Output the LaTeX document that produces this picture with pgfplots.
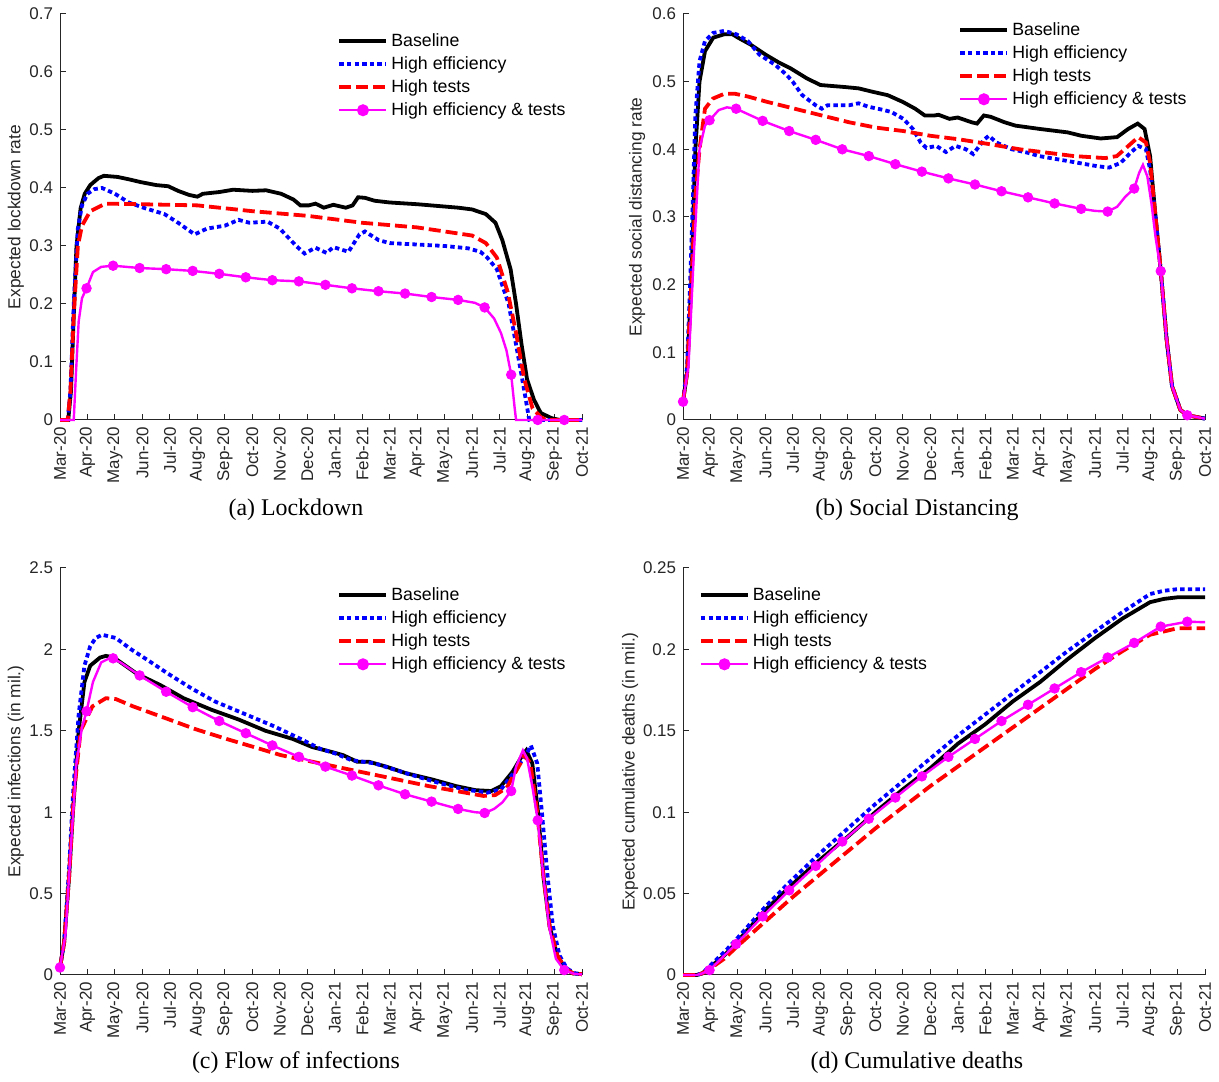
\documentclass[border=0pt]{standalone}
\usepackage{pgfplots}
\pgfplotsset{compat=1.18}
\usepackage{fontspec}
\setmainfont{Liberation Sans}
\newfontfamily\capfont{Liberation Serif}
\definecolor{mblue}{RGB}{0,0,255}
\definecolor{mred}{RGB}{255,0,0}
\definecolor{mmag}{RGB}{255,0,255}
\definecolor{axgray}{RGB}{38,38,38}
\pgfplotsset{
 panel/.style={
   scale only axis, width=261bp, height=203bp,
   xmin=0, xmax=19,
   axis x line*=bottom, axis y line*=left,
   axis line style={-, axgray, line width=0.5bp},
   tick style={axgray, line width=0.5bp},
   tick align=inside, major tick length=3bp,
   xtick={0,...,19},
   xticklabels={Mar-20,Apr-20,May-20,Jun-20,Jul-20,Aug-20,Sep-20,Oct-20,Nov-20,Dec-20,Jan-21,Feb-21,Mar-21,Apr-21,May-21,Jun-21,Jul-21,Aug-21,Sep-21,Oct-21},
   xticklabel style={rotate=90, anchor=east, font=\fontsize{8.5}{9}\selectfont, text=axgray},
   yticklabel style={font=\fontsize{8.5}{9}\selectfont, text=axgray},
   /pgf/number format/assume math mode=true,
   /pgf/number format/fixed, /pgf/number format/precision=2,
   scaled y ticks=false,
   every axis y label/.style={rotate=90, anchor=center, font=\fontsize{8.7}{10}\selectfont, text=axgray},
   clip=false,
   legend cell align=left,
   legend style={draw=none, fill=none, anchor=north west, font=\fontsize{8.9}{10}\selectfont, inner sep=0pt, row sep=2.5bp, column sep=1.5bp, nodes={inner sep=0pt, text height=7bp, text depth=2bp}},
   legend image code/.code={\draw[mark repeat=2,mark phase=2,##1] plot coordinates {(0bp,0bp) (11.75bp,0bp) (23.5bp,0bp)};},
 },
 bl/.style={black, line width=1.9bp},
 he/.style={mblue, line width=1.9bp, dash pattern=on 2.2bp off 1.6bp},
 ht/.style={mred, line width=1.9bp, dash pattern=on 6bp off 2.5bp},
 hm/.style={mmag, line width=1.2bp},
 hmk/.style={mmag, only marks, mark=*, mark size=2.4bp, mark options={solid, fill=mmag, draw=mmag}},
}
\newcommand{\hmlegend}{\addlegendimage{mmag, line width=1.2bp, mark=*, mark size=2.4bp, mark options={solid, fill=mmag}}\addlegendentry{High efficiency \& tests}}
\begin{document}
\begin{tikzpicture}[x=1bp,y=1bp]
\path[use as bounding box] (0,0) rectangle (609.5,541);
% ---------------- (a)
\begin{axis}[panel, at={(30bp,331bp)}, anchor=south west,
  ymin=0, ymax=0.7, ytick={0,0.1,0.2,0.3,0.4,0.5,0.6,0.7},
  ylabel={Expected lockdown rate}, ylabel style={at={(axis description cs:-0.0843,0.5)}},
  legend style={at={(axis description cs:0.531,0.956)}}]
\addplot[bl] coordinates {(0,0)(0.3,0)(0.4,0.05)(0.5,0.18)(0.6,0.3)(0.75,0.365)(0.9,0.39)(1.1,0.405)(1.4,0.417)(1.6,0.421)(2.1,0.419)(2.5,0.415)(2.95,0.41)(3.5,0.405)(3.94,0.403)(4.3,0.395)(4.7,0.388)(5.0,0.385)(5.2,0.39)(5.8,0.393)(6.3,0.397)(7.0,0.395)(7.5,0.396)(8.05,0.39)(8.5,0.38)(8.75,0.37)(9.05,0.37)(9.3,0.373)(9.6,0.366)(9.95,0.371)(10.4,0.366)(10.65,0.37)(10.85,0.384)(11.1,0.383)(11.45,0.378)(12.0,0.375)(13,0.372)(14,0.368)(14.5,0.366)(15.0,0.363)(15.5,0.355)(15.85,0.34)(16.1,0.31)(16.4,0.26)(16.6,0.2)(16.8,0.13)(17.0,0.07)(17.25,0.035)(17.5,0.012)(17.9,0.003)(18.2,0)(19,0)};
\addlegendentry{Baseline}
\addplot[he] coordinates {(0,0)(0.28,0)(0.38,0.05)(0.5,0.2)(0.65,0.33)(0.8,0.37)(1.0,0.39)(1.25,0.398)(1.53,0.4)(2.0,0.39)(2.5,0.375)(3.1,0.365)(3.8,0.355)(4.3,0.34)(4.9,0.32)(5.35,0.33)(6.0,0.335)(6.5,0.345)(6.9,0.34)(7.55,0.342)(8.0,0.33)(8.6,0.30)(8.9,0.287)(9.3,0.297)(9.7,0.288)(9.95,0.298)(10.5,0.29)(10.9,0.32)(11.1,0.325)(11.6,0.31)(12.0,0.305)(14.0,0.3)(14.85,0.296)(15.3,0.29)(15.55,0.28)(15.9,0.26)(16.33,0.2)(16.6,0.13)(16.9,0.05)(17.08,0)(19,0)};
\addlegendentry{High efficiency}
\addplot[ht] coordinates {(0,0)(0.28,0)(0.38,0.05)(0.5,0.18)(0.65,0.3)(0.8,0.335)(1.1,0.36)(1.65,0.373)(2.95,0.372)(5.0,0.37)(7.0,0.36)(9.0,0.352)(11.0,0.34)(13.0,0.332)(15.0,0.318)(15.5,0.305)(15.9,0.28)(16.3,0.22)(16.6,0.15)(16.9,0.07)(17.2,0.02)(17.5,0.005)(17.7,0)(19,0)};
\addlegendentry{High tests}
\addplot[hm, forget plot] coordinates {(0,0)(0.5,0)(0.58,0.08)(0.68,0.17)(0.8,0.21)(0.966,0.227)(1.2,0.255)(1.5,0.264)(1.932,0.266)(2.898,0.262)(3.864,0.26)(4.83,0.257)(5.796,0.252)(6.762,0.246)(7.728,0.241)(8.694,0.239)(9.66,0.233)(10.626,0.227)(11.592,0.222)(12.558,0.218)(13.524,0.212)(14.49,0.207)(15.1,0.202)(15.456,0.194)(15.8,0.175)(16.05,0.15)(16.25,0.12)(16.422,0.078)(16.55,0.02)(16.6,0)(19,0)};
\addplot[hmk, forget plot] coordinates {(0.966,0.227)(1.932,0.266)(2.898,0.262)(3.864,0.26)(4.83,0.257)(5.796,0.252)(6.762,0.246)(7.728,0.241)(8.694,0.239)(9.66,0.233)(10.626,0.227)(11.592,0.222)(12.558,0.218)(13.524,0.212)(14.49,0.207)(15.456,0.194)(16.422,0.078)(17.388,0)(18.354,0)};
\hmlegend
\node[font={\capfont\fontsize{12}{14}\selectfont}] at (axis description cs:0.452,-0.2217) {(a) Lockdown};
\end{axis}
% ---------------- (b)
\begin{axis}[panel, at={(341.5bp,331bp)}, anchor=south west,
  ymin=0, ymax=0.6, ytick={0,0.1,0.2,0.3,0.4,0.5,0.6},
  ylabel={Expected social distancing rate}, ylabel style={at={(axis description cs:-0.088,0.5)}},
  legend style={at={(axis description cs:0.527,0.983)}}]
\addplot[bl] coordinates {(0,0.027)(0.15,0.07)(0.3,0.2)(0.45,0.4)(0.6,0.5)(0.8,0.545)(1.1,0.565)(1.5,0.57)(1.8,0.57)(2.0,0.565)(2.45,0.555)(3.0,0.54)(3.5,0.528)(3.9,0.52)(4.5,0.505)(5.0,0.495)(5.3,0.494)(5.9,0.492)(6.4,0.49)(6.9,0.485)(7.45,0.48)(8.0,0.47)(8.45,0.46)(8.8,0.45)(9.15,0.45)(9.3,0.451)(9.7,0.445)(10.0,0.447)(10.5,0.44)(10.7,0.438)(10.95,0.45)(11.2,0.448)(11.7,0.44)(12.1,0.435)(13,0.43)(14,0.425)(14.5,0.42)(15.2,0.416)(15.8,0.418)(16.2,0.43)(16.55,0.438)(16.8,0.43)(17.0,0.39)(17.2,0.3)(17.39,0.22)(17.6,0.12)(17.8,0.05)(18.1,0.015)(18.35,0.007)(19,0.002)};
\addlegendentry{Baseline}
\addplot[he] coordinates {(0,0.027)(0.15,0.08)(0.3,0.25)(0.45,0.45)(0.6,0.53)(0.8,0.56)(1.1,0.572)(1.5,0.575)(1.94,0.57)(2.36,0.56)(2.78,0.54)(3.35,0.525)(3.77,0.51)(3.99,0.5)(4.34,0.48)(4.83,0.465)(5.05,0.46)(5.26,0.465)(6.04,0.465)(6.39,0.468)(6.74,0.463)(7.31,0.458)(7.59,0.455)(8.02,0.445)(8.37,0.43)(8.65,0.41)(8.86,0.402)(9.22,0.405)(9.57,0.396)(9.92,0.405)(10.3,0.4)(10.56,0.393)(10.98,0.415)(11.13,0.42)(11.41,0.41)(11.97,0.4)(12.54,0.395)(12.96,0.39)(13.67,0.385)(14.38,0.38)(15.08,0.375)(15.51,0.373)(15.93,0.38)(16.29,0.395)(16.57,0.405)(16.85,0.4)(17.0,0.37)(17.2,0.3)(17.39,0.22)(17.6,0.12)(17.8,0.05)(18.1,0.015)(18.35,0.007)(19,0.002)};
\addlegendentry{High efficiency}
\addplot[ht] coordinates {(0,0.027)(0.15,0.07)(0.3,0.2)(0.45,0.33)(0.6,0.4)(0.8,0.46)(1.09,0.475)(1.5,0.482)(1.9,0.482)(2.36,0.478)(3.07,0.47)(4.06,0.46)(5.05,0.45)(6.04,0.44)(7.03,0.432)(8.02,0.427)(9.0,0.42)(10.0,0.415)(11.1,0.408)(12.26,0.4)(13.25,0.395)(14.23,0.39)(15.37,0.387)(15.79,0.39)(16.21,0.405)(16.57,0.418)(16.85,0.41)(17.0,0.38)(17.2,0.3)(17.39,0.22)(17.6,0.12)(17.8,0.05)(18.1,0.015)(18.35,0.007)(19,0.002)};
\addlegendentry{High tests}
\addplot[hm, forget plot] coordinates {(0,0.027)(0.2,0.08)(0.4,0.25)(0.6,0.4)(0.8,0.435)(0.966,0.443)(1.3,0.458)(1.6,0.462)(1.932,0.46)(2.898,0.442)(3.864,0.427)(4.83,0.414)(5.796,0.4)(6.762,0.39)(7.728,0.378)(8.694,0.367)(9.66,0.357)(10.626,0.348)(11.592,0.338)(12.558,0.329)(13.524,0.32)(14.49,0.312)(15.0,0.309)(15.456,0.308)(15.8,0.315)(16.1,0.33)(16.422,0.342)(16.6,0.365)(16.74,0.377)(16.9,0.36)(17.05,0.32)(17.2,0.27)(17.388,0.22)(17.6,0.12)(17.8,0.05)(18.1,0.015)(18.354,0.007)(19,0.002)};
\addplot[hmk, forget plot] coordinates {(0,0.027)(0.966,0.443)(1.932,0.46)(2.898,0.442)(3.864,0.427)(4.83,0.414)(5.796,0.4)(6.762,0.39)(7.728,0.378)(8.694,0.367)(9.66,0.357)(10.626,0.348)(11.592,0.338)(12.558,0.329)(13.524,0.32)(14.49,0.312)(15.456,0.308)(16.422,0.342)(17.388,0.22)(18.354,0.007)};
\hmlegend
\node[font={\capfont\fontsize{12}{14}\selectfont}] at (axis description cs:0.448,-0.2217) {(b) Social Distancing};
\end{axis}
% ---------------- (c)
\begin{axis}[panel, at={(30bp,53.5bp)}, anchor=south west, height=203.5bp,
  ymin=0, ymax=2.5, ytick={0,0.5,1,1.5,2,2.5},
  ylabel={Expected infections (in mil.)}, ylabel style={at={(axis description cs:-0.0843,0.5)}},
  legend style={at={(axis description cs:0.531,0.956)}}]
\addplot[bl] coordinates {(0,0.046)(0.15,0.2)(0.33,0.6)(0.47,1.0)(0.68,1.5)(0.89,1.8)(1.1,1.9)(1.46,1.95)(1.67,1.96)(1.96,1.95)(2.38,1.9)(2.8,1.85)(3.66,1.78)(4.5,1.7)(5.5,1.63)(6.49,1.57)(7.48,1.5)(8.47,1.45)(9.18,1.4)(9.89,1.37)(10.31,1.35)(10.81,1.31)(11.24,1.31)(11.87,1.28)(12.58,1.24)(13.57,1.2)(14.42,1.16)(15.13,1.135)(15.7,1.13)(16.05,1.16)(16.48,1.25)(16.83,1.35)(16.97,1.38)(17.19,1.3)(17.4,1.0)(17.6,0.6)(17.82,0.3)(18.1,0.12)(18.39,0.04)(18.67,0.01)(19,0.005)};
\addlegendentry{Baseline}
\addplot[he] coordinates {(0,0.046)(0.15,0.2)(0.33,0.65)(0.47,1.1)(0.68,1.6)(0.89,1.9)(1.1,2.02)(1.3,2.07)(1.53,2.09)(2.03,2.07)(2.59,2.0)(3.23,1.93)(3.94,1.85)(4.79,1.76)(5.64,1.68)(6.77,1.6)(7.76,1.53)(8.76,1.45)(9.46,1.39)(10.03,1.36)(10.6,1.32)(11.45,1.3)(12.58,1.24)(13.57,1.19)(14.7,1.14)(15.56,1.12)(16.05,1.14)(16.55,1.25)(17.05,1.38)(17.14,1.41)(17.37,1.3)(17.54,1.0)(17.75,0.6)(17.94,0.3)(18.18,0.12)(18.45,0.04)(18.75,0.01)(19,0.005)};
\addlegendentry{High efficiency}
\addplot[ht] coordinates {(0,0.046)(0.15,0.2)(0.33,0.6)(0.5,1.1)(0.75,1.5)(1.18,1.65)(1.67,1.7)(2.03,1.695)(2.66,1.65)(3.8,1.58)(4.93,1.51)(6.06,1.45)(7.06,1.4)(8.05,1.35)(9.18,1.31)(10.03,1.28)(11.16,1.24)(12.3,1.2)(13.43,1.16)(14.42,1.13)(15.41,1.1)(15.84,1.105)(16.26,1.15)(16.76,1.3)(16.9,1.35)(17.12,1.3)(17.37,1.0)(17.6,0.6)(17.82,0.3)(18.1,0.12)(18.39,0.04)(18.67,0.01)(19,0.005)};
\addlegendentry{High tests}
\addplot[hm, forget plot] coordinates {(0,0.046)(0.2,0.25)(0.4,0.8)(0.6,1.3)(0.8,1.52)(0.966,1.62)(1.2,1.8)(1.5,1.92)(1.85,1.95)(2.2,1.92)(2.898,1.84)(3.864,1.74)(4.83,1.645)(5.796,1.56)(6.762,1.485)(7.728,1.41)(8.694,1.34)(9.66,1.28)(10.626,1.225)(11.592,1.165)(12.558,1.11)(13.524,1.065)(14.49,1.02)(15.1,1.0)(15.456,0.995)(15.8,1.02)(16.1,1.06)(16.422,1.13)(16.6,1.28)(16.85,1.38)(17.0,1.33)(17.2,1.15)(17.388,0.95)(17.6,0.6)(17.8,0.3)(18.05,0.1)(18.354,0.03)(18.7,0.008)(19,0.003)};
\addplot[hmk, forget plot] coordinates {(0,0.046)(0.966,1.62)(1.932,1.945)(2.898,1.84)(3.864,1.74)(4.83,1.645)(5.796,1.56)(6.762,1.485)(7.728,1.41)(8.694,1.34)(9.66,1.28)(10.626,1.225)(11.592,1.165)(12.558,1.11)(13.524,1.065)(14.49,1.02)(15.456,0.995)(16.422,1.13)(17.388,0.95)(18.354,0.03)};
\hmlegend
\node[font={\capfont\fontsize{12}{14}\selectfont}] at (axis description cs:0.452,-0.216) {(c) Flow of infections};
\end{axis}
% ---------------- (d)
\begin{axis}[panel, at={(341.5bp,53.5bp)}, anchor=south west, height=203.5bp,
  ymin=0, ymax=0.25, ytick={0,0.05,0.1,0.15,0.2,0.25},
  ylabel={Expected cumulative deaths (in mil.)}, ylabel style={at={(axis description cs:-0.1015,0.5)}},
  legend style={at={(axis description cs:0.030,0.956)}}]
\addplot[bl] coordinates {(0,0)(0.5,0)(0.7,0.001)(1,0.005)(1.5,0.012)(2,0.021)(3,0.04)(4,0.056)(5,0.071)(6,0.085)(7,0.1)(8,0.114)(9,0.127)(10,0.142)(11,0.154)(12,0.168)(13,0.18)(14,0.194)(15,0.207)(16,0.219)(17,0.229)(17.5,0.231)(18,0.232)(19,0.232)};
\addlegendentry{Baseline}
\addplot[he] coordinates {(0,0)(0.5,0)(0.7,0.001)(1,0.006)(1.5,0.014)(2,0.023)(3,0.042)(4,0.059)(5,0.075)(6,0.09)(7,0.105)(8,0.119)(9,0.133)(10,0.147)(11,0.16)(12,0.173)(13,0.186)(14,0.199)(15,0.211)(16,0.223)(17,0.234)(17.5,0.236)(18,0.237)(19,0.237)};
\addlegendentry{High efficiency}
\addplot[ht] coordinates {(0,0)(0.5,0)(0.7,0.001)(1,0.004)(1.5,0.01)(2,0.018)(3,0.033)(4,0.048)(5,0.062)(6,0.076)(7,0.09)(8,0.103)(9,0.116)(10,0.128)(11,0.14)(12,0.152)(13,0.164)(14,0.176)(15,0.188)(16,0.199)(17,0.209)(17.5,0.211)(18,0.213)(19,0.213)};
\addlegendentry{High tests}
\addplot[hm, forget plot] coordinates {(0,0)(0.5,0)(0.7,0.001)(0.966,0.003)(1.932,0.019)(2.898,0.036)(3.864,0.052)(4.83,0.067)(5.796,0.082)(6.762,0.096)(7.728,0.109)(8.694,0.122)(9.66,0.134)(10.626,0.145)(11.592,0.156)(12.558,0.166)(13.524,0.176)(14.49,0.186)(15.456,0.195)(16.422,0.204)(17.388,0.214)(18.354,0.217)(19,0.2167)};
\addplot[hmk, forget plot] coordinates {(0.966,0.003)(1.932,0.019)(2.898,0.036)(3.864,0.052)(4.83,0.067)(5.796,0.082)(6.762,0.096)(7.728,0.109)(8.694,0.122)(9.66,0.134)(10.626,0.145)(11.592,0.156)(12.558,0.166)(13.524,0.176)(14.49,0.186)(15.456,0.195)(16.422,0.204)(17.388,0.214)(18.354,0.217)};
\hmlegend
\node[font={\capfont\fontsize{12}{14}\selectfont}] at (axis description cs:0.448,-0.216) {(d) Cumulative deaths};
\end{axis}
\end{tikzpicture}
\end{document}
